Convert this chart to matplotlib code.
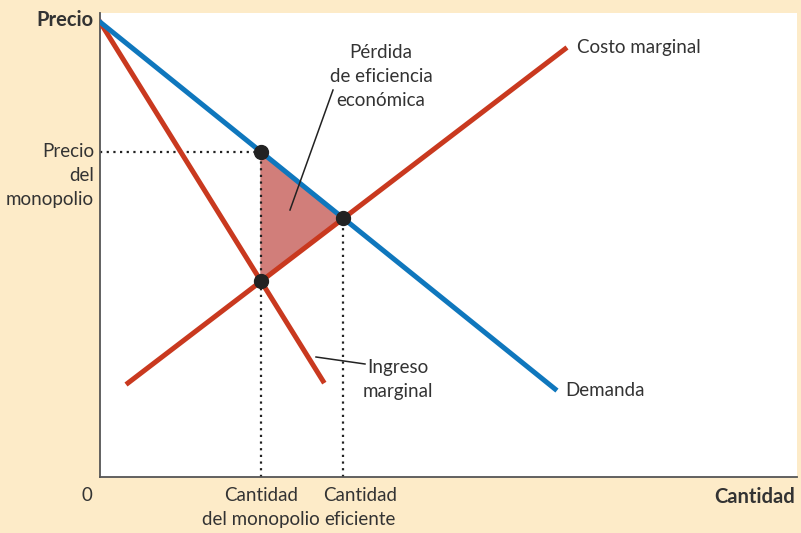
import numpy as np
import matplotlib.pyplot as plt

# curve end points (chart units: x = quantity, y = price)
demanda_x = [0, 455]
demanda_y = [455, 88]
ingreso_x = [0, 223]
ingreso_y = [455, 96]
costo_x = [28, 465]
costo_y = [94, 428]

# key quantities
q_monopolio = 161
q_eficiente = 243


def demanda(q):
    return np.interp(q, demanda_x, demanda_y)


def costo(q):
    return np.interp(q, costo_x, costo_y)


def ingreso(q):
    return np.interp(q, ingreso_x, ingreso_y)


p_monopolio = demanda(q_monopolio)
p_eficiente = demanda(q_eficiente)
cm_monopolio = ingreso(q_monopolio)

plt.rcParams["font.family"] = ["Lato", "DejaVu Sans"]
txt = "#333333"
azul = "#0f77bd"
rojo = "#c9391f"

fig = plt.figure(figsize=(8.01, 5.33), dpi=100)
fig.patch.set_facecolor("#fdebc8")
ax = fig.add_axes([100 / 801, 56 / 533, 697 / 801, 464 / 533])
ax.set_xlim(0, 697)
ax.set_ylim(0, 464)
ax.set_xticks([])
ax.set_yticks([])
for s in ["top", "right"]:
    ax.spines[s].set_visible(False)
for s in ["left", "bottom"]:
    ax.spines[s].set_color("#555555")
    ax.spines[s].set_linewidth(1.3)

# deadweight loss triangle
ax.fill([q_monopolio, q_eficiente, q_monopolio],
        [p_monopolio, p_eficiente, cm_monopolio],
        color="#d17e7a", zorder=1)

# dotted guides
kw = dict(color="#222222", linestyle=(0, (1, 2)), linewidth=1.6, zorder=2)
ax.plot([0, q_monopolio], [p_monopolio, p_monopolio], **kw)
ax.plot([q_monopolio, q_monopolio], [0, p_monopolio], **kw)
ax.plot([q_eficiente, q_eficiente], [0, p_eficiente], **kw)

ax.plot(ingreso_x, ingreso_y, color=rojo, linewidth=3.6, zorder=3)
ax.plot(costo_x, costo_y, color=rojo, linewidth=3.6, zorder=3)
ax.plot(demanda_x, demanda_y, color=azul, linewidth=3.6, zorder=4)

ax.plot([q_monopolio, q_eficiente, q_monopolio],
        [p_monopolio, p_eficiente, cm_monopolio],
        "o", color="#222222", markersize=10, zorder=5, clip_on=False)

# leader lines
ax.plot([190, 233], [267, 387], color="#222222", linewidth=1.1, zorder=6)
ax.plot([216, 265], [120, 113], color="#222222", linewidth=1.1, zorder=6)

fs = 13.5
ls = 1.5
ax.text(281, 400, "Pérdida\nde eficiencia\neconómica", ha="center", va="center",
        fontsize=fs, color=txt, linespacing=ls)
ax.text(298, 98, "Ingreso\nmarginal", ha="center", va="center",
        fontsize=fs, color=txt, linespacing=ls)
ax.text(477, 430, "Costo marginal", ha="left", va="center", fontsize=fs, color=txt)
ax.text(465, 87, "Demanda", ha="left", va="center", fontsize=fs, color=txt)

# axis labels
ax.text(-6, 457, "Precio", ha="right", va="center", fontsize=14.5,
        fontweight="bold", color=txt)
ax.text(-6, p_monopolio - 24, "Precio\ndel\nmonopolio", ha="right", va="center",
        fontsize=fs, color=txt, linespacing=ls)
ax.text(-13, -10, "0", ha="center", va="top", fontsize=fs, color=txt)
ax.text(q_monopolio, -10, "Cantidad\ndel monopolio", ha="center", va="top",
        fontsize=fs, color=txt, linespacing=ls)
ax.text(q_eficiente + 17, -10, "Cantidad\neficiente", ha="center", va="top",
        fontsize=fs, color=txt, linespacing=ls)
ax.text(695, -10, "Cantidad", ha="right", va="top", fontsize=14.5,
        fontweight="bold", color=txt)

plt.savefig("out.png", dpi=100, facecolor=fig.get_facecolor())
plt.close()
